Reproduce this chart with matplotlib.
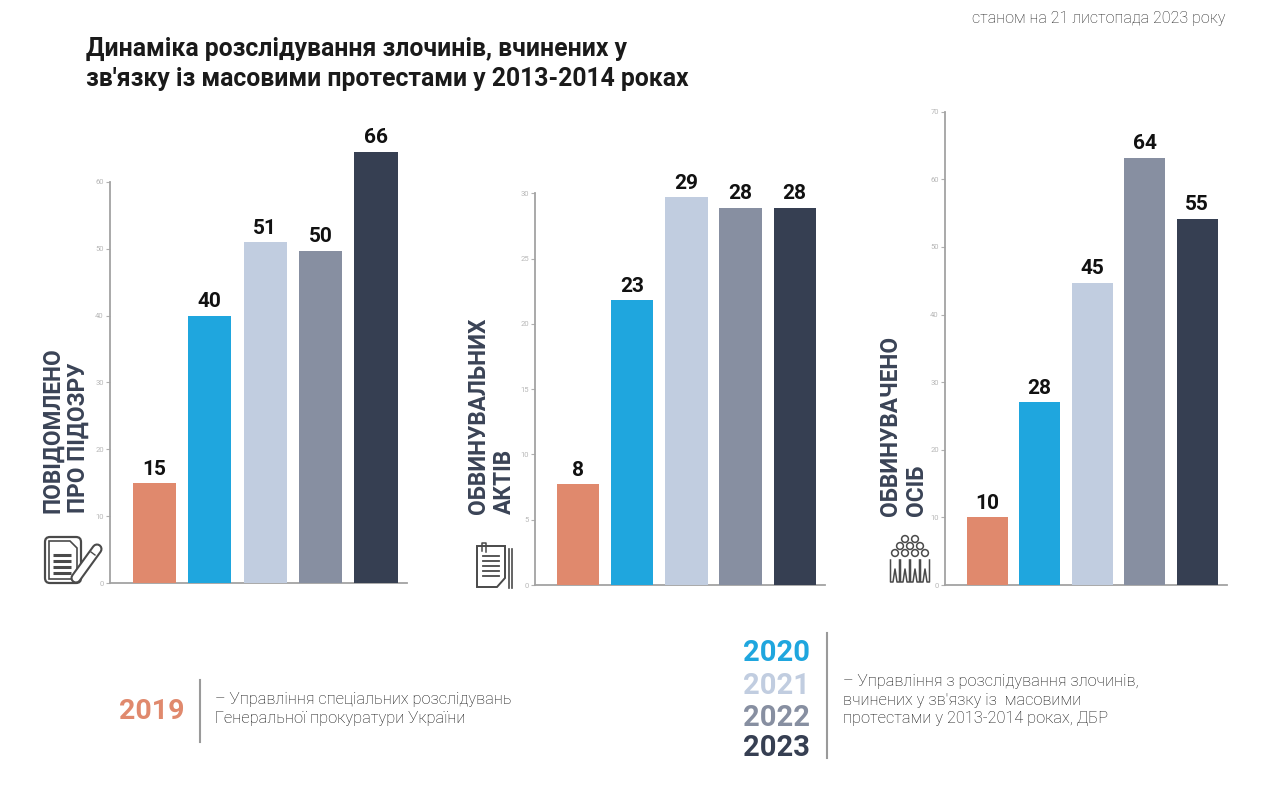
import matplotlib
matplotlib.use("Agg")
import matplotlib.pyplot as plt
from matplotlib.patches import Polygon, Circle, FancyBboxPatch

plt.rcParams['font.family'] = ['Roboto', 'DejaVu Sans']

# ---------------- data ----------------
years = ["2019", "2020", "2021", "2022", "2023"]
colors = ["#e0896d", "#1fa6de", "#c1cde0", "#878fa1", "#363f52"]

suspicion_labels = [15, 40, 51, 50, 66]
suspicion_bars = [15.0, 40.0, 51.0, 49.7, 64.5]

indictment_labels = [8, 23, 29, 28, 28]
indictment_bars = [7.7, 21.8, 29.7, 28.9, 28.9]

accused_labels = [10, 28, 45, 64, 55]
accused_bars = [10.0, 27.0, 44.7, 63.2, 54.2]

panel_titles = ["ПОВІДОМЛЕНО\nПРО ПІДОЗРУ", "ОБВИНУВАЛЬНИХ\nАКТІВ", "ОБВИНУВАЧЕНО\nОСІБ"]
panel_ymax = [60, 30, 70]
panel_ystep = [10, 5, 10]

title = "Динаміка розслідування злочинів, вчинених у\nзв'язку із масовими протестами у 2013-2014 роках"
date_note = "станом на 21 листопада 2023 року"
legend_left = "– Управління спеціальних розслідувань\nГенеральної прокуратури України"
legend_right = "– Управління з розслідування злочинів,\nвчинених у зв'язку із  масовими\nпротестами у 2013-2014 роках, ДБР"

# ---------------- figure ----------------
W, H = 1277, 797
fig = plt.figure(figsize=(W / 100, H / 100), dpi=100)
fig.patch.set_facecolor("white")

def px_axes(left, right, bottom_y, top_y):
    return fig.add_axes([left / W, (H - bottom_y) / H, (right - left) / W, (bottom_y - top_y) / H])

# pixel geometry of each panel: spine x, axis end x, y of zero, y of top tick
geoms = [(110, 407, 583.3, 181.7), (535, 825, 585, 193.3), (945, 1226.7, 585, 111.7)]
datasets = [(suspicion_bars, suspicion_labels), (indictment_bars, indictment_labels),
            (accused_bars, accused_labels)]

for i, ((l, r, b, t), (bars, labels)) in enumerate(zip(geoms, datasets)):
    ax = px_axes(l, r, b, t)
    ax.set_facecolor("none")
    x = list(range(len(years)))
    ax.bar(x, bars, width=0.78, color=colors, clip_on=False, zorder=3)
    for xi, h, lab in zip(x, bars, labels):
        ax.annotate(str(lab), xy=(xi, h), xytext=(0, 6), textcoords="offset points",
                    ha="center", va="baseline", fontsize=15, fontweight="bold",
                    color="#111111", annotation_clip=False)
    ax.set_xlim(-0.8, 4.56)
    ax.set_ylim(0, panel_ymax[i])
    ax.set_yticks(range(0, panel_ymax[i] + 1, panel_ystep[i]))
    ax.set_xticks([])
    for s in ["top", "right"]:
        ax.spines[s].set_visible(False)
    for s in ["left", "bottom"]:
        ax.spines[s].set_color("#a3a3a3")
        ax.spines[s].set_linewidth(1.3)
    ax.tick_params(axis="y", length=3, width=0.8, color="#b0b0b0", labelsize=5.5,
                   labelcolor="#b8b8b8", pad=1.5)

# overlay in pixel coordinates
ov = fig.add_axes([0, 0, 1, 1], zorder=10)
ov.set_xlim(0, W)
ov.set_ylim(H, 0)
ov.axis("off")
ov.patch.set_alpha(0)

ov.text(86, 86, title, fontsize=17.8, fontweight="bold", color="#1a1a1a",
        ha="left", va="baseline", linespacing=1.3)
ov.text(1225, 23, date_note, fontsize=11.6, fontweight="light", color="#222222",
        ha="right", va="baseline")

label_pos = [(41, 513), (467, 514), (879, 516)]
for (lx, ly), txt in zip(label_pos, panel_titles):
    ov.text(lx, ly, txt, rotation=90, fontsize=16.3, fontweight="bold", color="#3a4356",
            ha="left", va="bottom", multialignment="left", linespacing=1.15)

icol = "#4a4a4a"
# icon 1: document with pen
ov.add_patch(FancyBboxPatch((45, 537), 36, 46, boxstyle="round,pad=0,rounding_size=5",
                            fill=False, ec=icol, lw=1.6))
ov.add_patch(Polygon([(49, 541), (70, 541), (77, 548), (77, 579), (49, 579)], closed=True,
                     fill=False, ec=icol, lw=1.2))
for yy in [555, 561, 567, 573]:
    ov.plot([53, 71], [yy, yy], color=icol, lw=2.2, solid_capstyle="butt")
ov.plot([97, 76], [549, 578], color=icol, lw=8, solid_capstyle="round")
ov.plot([97, 76], [549, 578], color="white", lw=5, solid_capstyle="round")
ov.plot([91, 95], [552, 555], color=icol, lw=1)

# icon 2: document with clip
ov.add_patch(Polygon([(477, 546), (505, 546), (505, 578), (497, 587), (477, 587)], closed=True,
                     fill=False, ec=icol, lw=1.4))
for yy in [556, 561, 566, 571, 576]:
    ov.plot([483, 499], [yy, yy], color=icol, lw=1.3)
ov.plot([508.5, 508.5], [549, 588], color=icol, lw=1.2)
ov.plot([511.5, 511.5], [549, 588], color=icol, lw=1.2)
ov.plot([482, 482, 486, 486], [551, 543, 543, 552], color=icol, lw=1.1)

# icon 3: group of people
heads = [(905, 539), (915, 539), (900, 546), (910, 546), (920, 546),
         (895, 553), (905, 553), (915, 553), (925, 553)]
for hx, hy in heads:
    ov.add_patch(Circle((hx, hy), 3.4, fill=True, fc="white", ec=icol, lw=1.1))
for bx in [895, 905, 915, 925]:
    ov.plot([bx - 4.5, bx - 4.5, bx - 2, bx, bx + 2, bx + 4.5, bx + 4.5],
            [560, 582, 582, 569, 582, 582, 560], color=icol, lw=1.1)

# legend
ov.text(185, 719, "2019", fontsize=20.5, fontweight="bold", color=colors[0], ha="right",
        va="baseline")
ov.plot([200, 200], [680, 742], color="#9a9a9a", lw=1.5)
ov.text(215, 709, legend_left, fontsize=11.8, fontweight="light", color="#111111",
        ha="left", va="center", linespacing=1.35)

for yr, c, yb in zip(years[1:], colors[1:], [661, 694, 726, 756]):
    ov.text(810, yb, yr, fontsize=21, fontweight="bold", color=c, ha="right", va="baseline")
ov.plot([827, 827], [633, 758], color="#9a9a9a", lw=1.5)
ov.text(843, 700, legend_right, fontsize=11.8, fontweight="light", color="#111111",
        ha="left", va="center", linespacing=1.3)

fig.savefig("out.png", dpi=100, facecolor="white")
